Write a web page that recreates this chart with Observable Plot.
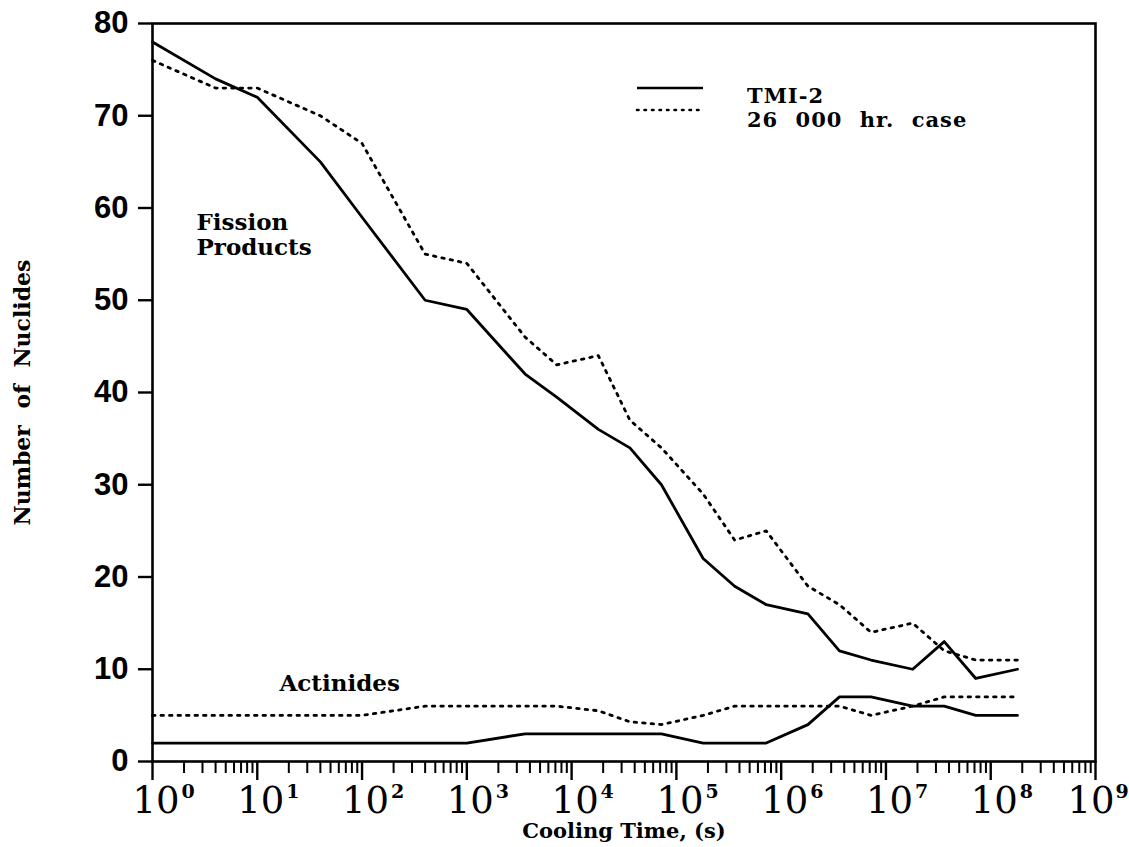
<!DOCTYPE html>
<html>
<head>
<meta charset="utf-8">
<script src="https://cdn.jsdelivr.net/npm/d3@7"></script>
<script src="https://cdn.jsdelivr.net/npm/@observablehq/plot@0.6"></script>
<style>
  html, body { margin: 0; padding: 0; background: #fff; }
  #wrap { position: relative; width: 1129px; height: 847px; overflow: hidden; }
  #wrap svg { display: block; }
  #legend { position: absolute; left: 0; top: 0; pointer-events: none; }
  g[aria-label="y-axis tick label"] text { font-weight: bold; }
</style>
</head>
<body>
<div id="wrap"></div>
<script>
// ---- data ----
const times = [1, 4, 10, 40, 100, 400, 1000, 3600, 7200, 18000, 36000, 72000,
               180000, 360000, 720000, 1.8e6, 3.6e6, 7.2e6, 1.8e7, 3.6e7, 7.2e7, 1.8e8];
const fissionTMI   = [78, 74, 72, 65, 59, 50, 49, 42, 39.5, 36, 34, 30, 22, 19, 17, 16, 12, 11, 10, 13, 9, 10];
const fissionCase  = [76, 73, 73, 70, 67, 55, 54, 46, 43, 44, 37, 34, 29, 24, 25, 19, 17, 14, 15, 12, 11, 11];
const actinideTMI  = [2, 2, 2, 2, 2, 2, 2, 3, 3, 3, 3, 3, 2, 2, 2, 4, 7, 7, 6, 6, 5, 5];
const actinideCase = [5, 5, 5, 5, 5, 6, 6, 6, 6, 5.5, 4.3, 4, 5, 6, 6, 6, 6, 5, 6, 7, 7, 7];
const seriesNames = ["TMI-2", "26 000 hr. case"];
const groupNames = ["Fission Products", "Actinides"];
const yTickValues = [0, 10, 20, 30, 40, 50, 60, 70, 80];
const xExponents = [0, 1, 2, 3, 4, 5, 6, 7, 8, 9];
const minorMultipliers = [2, 3, 4, 5, 6, 7, 8, 9];
const xTitle = "Cooling Time, (s)";
const yTitle = "Number of Nuclides";

// ---- table for the library ----
const seriesDefs = [
  {group: groupNames[0], name: seriesNames[0], values: fissionTMI},
  {group: groupNames[0], name: seriesNames[1], values: fissionCase},
  {group: groupNames[1], name: seriesNames[0], values: actinideTMI},
  {group: groupNames[1], name: seriesNames[1], values: actinideCase}
];
const rows = seriesDefs.flatMap(s => times.map((t, i) => ({t, n: s.values[i], name: s.name, key: s.group + "|" + s.name})));
const majorTicks = xExponents.map(e => Math.pow(10, e));
const minorTicks = xExponents.slice(0, -1).flatMap(e => minorMultipliers.map(m => m * Math.pow(10, e)));
const innerMajor = majorTicks.slice(0, -1);
const lastMajor = majorTicks.slice(-1);

const serif = "'DejaVu Serif', serif";
const expText = d => String(Math.round(Math.log10(d)));

const plot = Plot.plot({
  width: 1129,
  height: 847,
  marginLeft: 152,
  marginRight: 34,
  marginTop: 23,
  marginBottom: 86,
  style: {background: "white", color: "black", overflow: "visible"},
  x: {type: "log", domain: [1, 1e9], label: null},
  y: {domain: [0, 80], label: null},
  marks: [
    Plot.axisY({ticks: yTickValues, tickSize: 14, tickPadding: 10, strokeWidth: 2.4,
      fontSize: 31, fontWeight: "bold", fontFamily: "'Liberation Sans', Arial, sans-serif", label: null}),
    Plot.axisX({ticks: majorTicks, tickSize: 19, strokeWidth: 2.4, tickFormat: () => "", label: null}),
    Plot.axisX({ticks: minorTicks, tickSize: 12, strokeWidth: 2, tickFormat: () => "", label: null}),
    // "10" with superscript exponent
    Plot.text(innerMajor, {x: d => d, text: () => "10", frameAnchor: "bottom", textAnchor: "start",
      lineAnchor: "middle", dx: -20, dy: 40, fontSize: 37, fontFamily: serif, fill: "black"}),
    Plot.text(innerMajor, {x: d => d, text: expText, frameAnchor: "bottom",
      textAnchor: "start", lineAnchor: "middle", dx: 29, dy: 30, fontSize: 19, fontFamily: serif, fontWeight: "bold", fill: "black"}),
    Plot.text(lastMajor, {x: d => d, text: () => "10", frameAnchor: "bottom", textAnchor: "start",
      lineAnchor: "middle", dx: -28, dy: 40, fontSize: 37, fontFamily: serif, fill: "black"}),
    Plot.text(lastMajor, {x: d => d, text: expText, frameAnchor: "bottom",
      textAnchor: "start", lineAnchor: "middle", dx: 20, dy: 30, fontSize: 19, fontFamily: serif, fontWeight: "bold", fill: "black"}),
    Plot.frame({stroke: "black", strokeWidth: 2.6}),
    Plot.line(rows.filter(d => d.name === seriesNames[0]), {x: "t", y: "n", z: "key",
      stroke: "black", strokeWidth: 2.8, strokeLinejoin: "round"}),
    Plot.line(rows.filter(d => d.name === seriesNames[1]), {x: "t", y: "n", z: "key",
      stroke: "black", strokeWidth: 2.8, strokeDasharray: "2.5,6", strokeLinecap: "round", strokeLinejoin: "round"}),
    Plot.text(["Fission\nProducts"], {frameAnchor: "top-left", text: d => d, textAnchor: "start", lineAnchor: "middle",
      dx: 44, dy: 211, lineHeight: 1.09, fontSize: 23, fontWeight: "bold", fontFamily: serif, fill: "black"}),
    Plot.text([groupNames[1]], {frameAnchor: "top-left", text: d => d, textAnchor: "start", lineAnchor: "middle",
      dx: 127, dy: 660, fontSize: 23, fontWeight: "bold", fontFamily: serif, fill: "black"}),
    Plot.text([xTitle], {frameAnchor: "bottom", text: d => d, textAnchor: "middle", lineAnchor: "middle", dy: 70,
      fontSize: 21, fontWeight: "bold", fontFamily: serif, fill: "black"}),
    Plot.text([yTitle], {frameAnchor: "left", text: d => d, textAnchor: "middle", lineAnchor: "middle", rotate: -90, dx: -130,
      fontSize: 22, fontWeight: "bold", fontFamily: serif, fill: "black"})
  ]
});

const wrap = document.getElementById("wrap");
wrap.appendChild(plot);
// widen word gaps of the axis title like the typewriter-style original
plot.querySelectorAll("text").forEach(t => {
  if (t.textContent === yTitle) t.setAttribute("word-spacing", "9");
});

// ---- legend (drawn over the plot, top right) ----
const ns = "http://www.w3.org/2000/svg";
const leg = document.createElementNS(ns, "svg");
leg.setAttribute("id", "legend");
leg.setAttribute("width", "1129");
leg.setAttribute("height", "847");
const legendItems = [
  {name: seriesNames[0], dash: null, y: 88, base: 103},
  {name: seriesNames[1], dash: "1.5,6", y: 110, base: 127}
];
legendItems.forEach(it => {
  const l = document.createElementNS(ns, "line");
  l.setAttribute("x1", 637); l.setAttribute("x2", 703);
  l.setAttribute("y1", it.y); l.setAttribute("y2", it.y);
  l.setAttribute("stroke", "black");
  l.setAttribute("stroke-width", it.dash ? 2.6 : 2.4);
  if (it.dash) { l.setAttribute("stroke-dasharray", it.dash); l.setAttribute("stroke-linecap", "round"); }
  leg.appendChild(l);
  const t = document.createElementNS(ns, "text");
  t.setAttribute("x", 747); t.setAttribute("y", it.base);
  t.setAttribute("font-family", "DejaVu Serif, serif");
  t.setAttribute("font-weight", "bold");
  t.setAttribute("font-size", "21");
  t.setAttribute("word-spacing", "9");
  t.setAttribute("letter-spacing", "1");
  t.textContent = it.name;
  leg.appendChild(t);
});
wrap.appendChild(leg);
</script>
</body>
</html>
